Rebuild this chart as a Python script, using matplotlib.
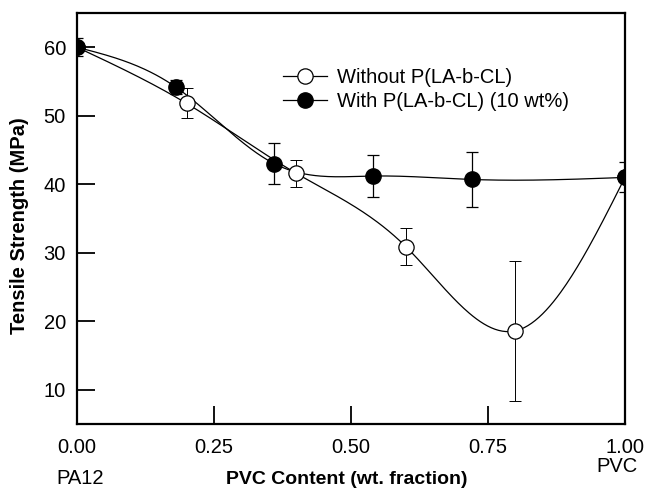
import numpy as np
import matplotlib
matplotlib.use("Agg")
import matplotlib.pyplot as plt

plt.rcParams['font.family'] = ['Liberation Sans', 'DejaVu Sans']

# data
x_without = [0.0, 0.2, 0.4, 0.6, 0.8, 1.0]
y_without = [60.0, 51.8, 41.6, 30.9, 18.6, 41.0]
e_without = [0.0, 2.2, 2.0, 2.7, 10.2, 0.0]

x_with = [0.0, 0.18, 0.36, 0.54, 0.72, 1.0]
y_with = [60.0, 54.2, 43.0, 41.2, 40.7, 41.0]
e_with = [1.3, 1.0, 3.0, 3.1, 4.0, 2.2]

xticks = [0.0, 0.25, 0.5, 0.75, 1.0]
yticks = [10, 20, 30, 40, 50, 60]


def smooth(x, y, n=300):
    # natural cubic spline through the points (just for drawing the curve)
    x = np.asarray(x, float)
    y = np.asarray(y, float)
    k = len(x)
    h = np.diff(x)
    A = np.zeros((k, k))
    r = np.zeros(k)
    A[0, 0] = A[-1, -1] = 1
    for i in range(1, k - 1):
        A[i, i - 1] = h[i - 1]
        A[i, i] = 2 * (h[i - 1] + h[i])
        A[i, i + 1] = h[i]
        r[i] = 6 * ((y[i + 1] - y[i]) / h[i] - (y[i] - y[i - 1]) / h[i - 1])
    M = np.linalg.solve(A, r)
    xs = np.linspace(x[0], x[-1], n)
    idx = np.clip(np.searchsorted(x, xs) - 1, 0, k - 2)
    x0, x1 = x[idx], x[idx + 1]
    hh = x1 - x0
    a = (x1 - xs) / hh
    b = (xs - x0) / hh
    ys = (a * y[idx] + b * y[idx + 1]
          + ((a ** 3 - a) * M[idx] + (b ** 3 - b) * M[idx + 1]) * hh ** 2 / 6)
    return xs, ys


fig = plt.figure(figsize=(6.45, 4.91), dpi=100)
ax = fig.add_axes([77 / 645, 1 - 424 / 491, 548 / 645, 411 / 491])

xs, ys = smooth(x_without, y_without)
ax.plot(xs, ys, color='black', lw=0.9)
xs, ys = smooth(x_with, y_with)
ax.plot(xs, ys, color='black', lw=0.9)

ax.errorbar(x_without, y_without, yerr=e_without, fmt='none', ecolor='black',
            elinewidth=0.7, capsize=4, capthick=0.7, zorder=3)
ax.errorbar(x_with, y_with, yerr=e_with, fmt='none', ecolor='black',
            elinewidth=0.9, capsize=4, capthick=0.9, zorder=3)

ax.plot(x_without, y_without, 'o', ms=11, mfc='white', mec='black', mew=0.9,
        zorder=4)
ax.plot(x_with, y_with, 'o', ms=11, mfc='black', mec='black', zorder=5)

# legend entries
l1, = ax.plot([], [], '-o', color='black', lw=0.9, ms=11, mfc='white', mew=0.9)
l2, = ax.plot([], [], '-o', color='black', lw=0.9, ms=11, mfc='black')
ax.legend([l1, l2], ['Without P(LA-b-CL)', 'With P(LA-b-CL) (10 wt%)'],
          loc='upper left', bbox_to_anchor=(0.357, 0.89), frameon=False,
          fontsize=14.5, handlelength=2.2, handletextpad=0.5,
          labelspacing=0.25, borderpad=0)

ax.set_xlim(0, 1)
ax.set_ylim(5, 65)
ax.set_xticks(xticks)
ax.set_xticklabels(['%.2f' % t for t in xticks])
ax.set_yticks(yticks)
ax.tick_params(direction='in', length=13, width=1.3, labelsize=14.5, pad=8)
ax.tick_params(axis='x', pad=10)
for s in ax.spines.values():
    s.set_linewidth(1.6)

fig.text(20 / 645, 1 - 226 / 491, 'Tensile Strength (MPa)', rotation=90,
         ha='center', va='center', fontsize=14.5, fontweight='bold')
fig.text(347 / 645, 1 - 480 / 491, 'PVC Content (wt. fraction)', ha='center',
         va='center', fontsize=14, fontweight='bold')
fig.text(80 / 645, 1 - 478 / 491, 'PA12', ha='center', va='center',
         fontsize=14.5)
fig.text(617 / 645, 1 - 467 / 491, 'PVC', ha='center', va='center',
         fontsize=14.5)

fig.savefig('out.png', dpi=100)
